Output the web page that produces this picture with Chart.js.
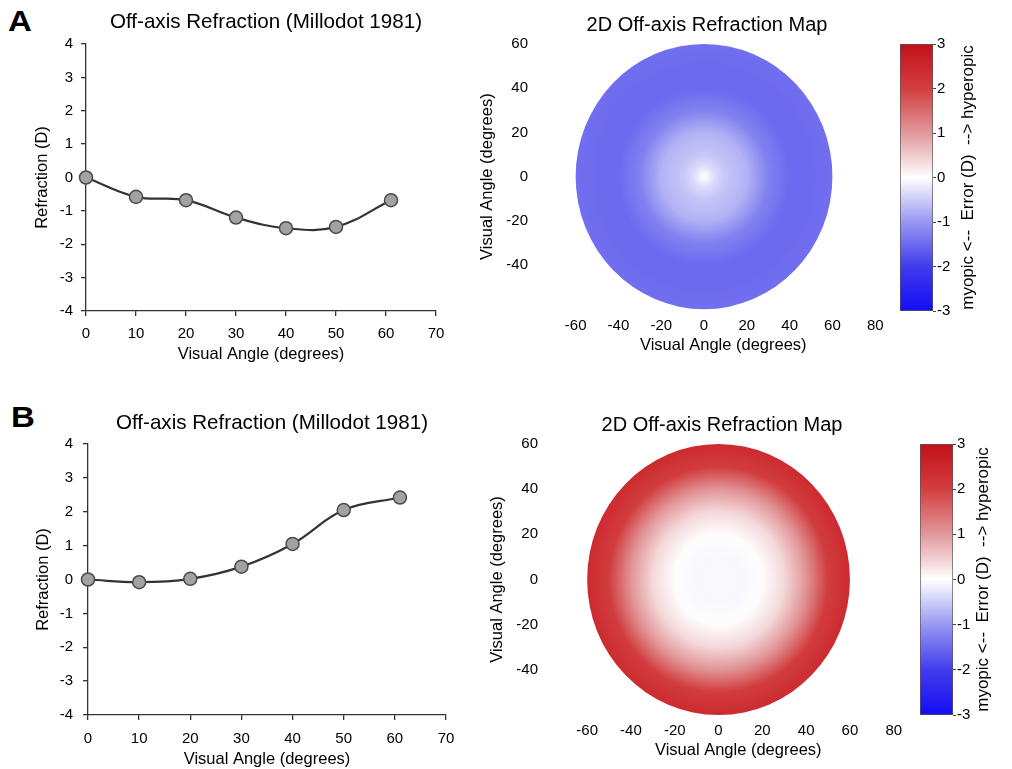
<!DOCTYPE html>
<html><head><meta charset="utf-8">
<script src="https://cdn.jsdelivr.net/npm/chart.js@4/dist/chart.umd.min.js"></script>
<style>
html,body{margin:0;padding:0;background:#fff;width:1012px;height:769px;overflow:hidden;position:relative;font-family:"Liberation Sans",Arial,sans-serif}
canvas{position:absolute}
.lbl{position:absolute;font-weight:bold;font-size:30px;color:#000;line-height:1;transform:scaleX(1.1);transform-origin:left top}
</style></head><body>
<div class="lbl" style="left:8px;top:6px">A</div>
<div class="lbl" style="left:11px;top:402px">B</div>
<canvas id="lineA" style="left:0;top:0" width="532" height="370"></canvas>
<canvas id="mapA" style="left:470px;top:0" width="474" height="370"></canvas>
<canvas id="cbarA" style="left:890px;top:0" width="122" height="370"></canvas>
<canvas id="lineB" style="left:0;top:400px" width="544" height="369"></canvas>
<canvas id="mapB" style="left:470px;top:400px" width="504" height="369"></canvas>
<canvas id="cbarB" style="left:910px;top:400px" width="102" height="369"></canvas>
<script>
// ---- data ----
const anglesA = [0, 10, 20, 30, 40, 50, 61];
const refractionA = [0, -0.58, -0.68, -1.2, -1.52, -1.48, -0.68];
const anglesB = [0, 10, 20, 30, 40, 50, 61];
const refractionB = [0, -0.08, 0.02, 0.38, 1.05, 2.05, 2.42];
const mapRadiiA = [0, 5, 10, 20, 30, 40, 50, 60];
const mapValuesA = [0, -0.35, -0.55, -0.75, -1.25, -1.5, -1.5, -1.45];
const mapRadiiB = [0, 10, 20, 30, 40, 50, 60];
const mapValuesB = [-0.05, -0.08, 0.02, 0.38, 1.05, 2.05, 2.42];
const lineXTicks = [0, 10, 20, 30, 40, 50, 60, 70];
const lineYTicks = [-4, -3, -2, -1, 0, 1, 2, 3, 4];
const mapXTicks = [-60, -40, -20, 0, 20, 40, 60, 80];
const mapYTicks = [-40, -20, 0, 20, 40, 60];
const cbarTicks = [-3, -2, -1, 0, 1, 2, 3];
const cmapValues = [-3, -2, -1, 0, 1, 2, 3];
const cmapColors = [[20,12,245],[65,60,235],[152,152,242],[255,255,255],[226,152,155],[210,62,64],[195,16,26]];
const lineTitle = 'Off-axis Refraction (Millodot 1981)';
const mapTitle = '2D Off-axis Refraction Map';
const angleLabel = 'Visual Angle (degrees)';
const refrLabel = 'Refraction (D)';
const cbarLabel = 'myopic <--  Error (D)  --> hyperopic';
const MAP_RADIUS = 60;

const FAMILY = "'Liberation Sans', Arial, sans-serif";
Chart.defaults.font.family = FAMILY;
Chart.defaults.color = '#000';

function cmap(v) {
  v = Math.max(cmapValues[0], Math.min(cmapValues[cmapValues.length-1], v));
  for (let i = 0; i < cmapValues.length - 1; i++) {
    if (v <= cmapValues[i+1]) {
      const t = (v - cmapValues[i]) / (cmapValues[i+1] - cmapValues[i]);
      const a = cmapColors[i], b = cmapColors[i+1];
      return 'rgb(' + a.map((c, k) => Math.round(c + (b[k]-c)*t)).join(',') + ')';
    }
  }
  return 'rgb(' + cmapColors[cmapColors.length-1].join(',') + ')';
}

// title drawn at a fixed centre (canvas coords)
function titlePlugin(text, size, cx, cy) {
  return {
    id: 'panelTitle',
    afterDraw(chart) {
      const ctx = chart.ctx;
      ctx.save();
      ctx.font = size + 'px ' + FAMILY;
      ctx.fillStyle = '#000';
      ctx.textAlign = 'center'; ctx.textBaseline = 'middle';
      ctx.fillText(text, cx, cy);
      ctx.restore();
    }
  };
}

function lineChart(id, xs, ys, g) {
  return new Chart(document.getElementById(id), {
    type: 'line',
    data: { datasets: [{
      data: xs.map((x, i) => ({x: x, y: ys[i]})),
      borderColor: '#333', borderWidth: 2.2, tension: 0.4, fill: false, clip: false,
      pointRadius: 6.5, pointHoverRadius: 6.5, pointBackgroundColor: '#a2a2a2',
      pointBorderColor: '#4a4a4a', pointBorderWidth: 1.5
    }]},
    plugins: [titlePlugin(lineTitle, 20.6, g.tX, g.tY)],
    options: {
      responsive: false, animation: false, events: [],
      layout: {padding: {left: 0, right: g.padR, top: 44, bottom: 0}},
      plugins: {legend: {display: false}, tooltip: {enabled: false}},
      scales: {
        x: {type: 'linear', min: 0, max: 70,
            afterBuildTicks: s => { s.ticks = lineXTicks.map(v => ({value: v})); },
            afterFit: s => { s.height = g.xH; },
            ticks: {font: {size: 15}, color: '#000', padding: g.xTP, maxRotation: 0},
            grid: {drawOnChartArea: false, drawTicks: true, tickLength: 5, color: '#333', lineWidth: 1.3},
            border: {display: true, color: '#333', width: 1.3},
            title: {display: true, text: angleLabel, color: '#000', font: {size: 16.5}, padding: {top: 0, bottom: g.xTB}}},
        y: {type: 'linear', min: -4, max: 4,
            afterBuildTicks: s => { s.ticks = lineYTicks.map(v => ({value: v})); },
            afterFit: s => { s.width = g.yW; },
            ticks: {font: {size: 15}, color: '#000', padding: g.yTP},
            grid: {drawOnChartArea: false, drawTicks: true, tickLength: 5, color: '#333', lineWidth: 1.3},
            border: {display: true, color: '#333', width: 1.3},
            title: {display: true, text: refrLabel, color: '#000', font: {size: 16.5}, padding: {top: g.yTT, bottom: 0}}}
      }
    }
  });
}

function radialMapPlugin(radii, values) {
  return {
    id: 'radialMap',
    beforeDatasetsDraw(chart) {
      const x = chart.scales.x, y = chart.scales.y;
      const cx = x.getPixelForValue(0), cy = y.getPixelForValue(0);
      const rx = x.getPixelForValue(MAP_RADIUS) - cx, ry = cy - y.getPixelForValue(MAP_RADIUS);
      const ctx = chart.ctx;
      ctx.save();
      ctx.translate(cx, cy);
      ctx.scale(1, ry / rx);
      const grad = ctx.createRadialGradient(0, 0, 0, 0, 0, rx);
      radii.forEach((r, i) => grad.addColorStop(Math.min(1, r / MAP_RADIUS), cmap(values[i])));
      ctx.fillStyle = grad;
      ctx.beginPath(); ctx.arc(0, 0, rx, 0, Math.PI * 2); ctx.fill();
      ctx.restore();
    }
  };
}

function mapChart(id, radii, values, g) {
  return new Chart(document.getElementById(id), {
    type: 'scatter',
    data: {datasets: [{data: [], pointRadius: 0}]},
    plugins: [radialMapPlugin(radii, values), titlePlugin(mapTitle, 20, g.tX, g.tY)],
    options: {
      responsive: false, animation: false, events: [],
      layout: {padding: {left: 0, right: g.padR, top: g.padT, bottom: 0}},
      plugins: {legend: {display: false}, tooltip: {enabled: false}},
      scales: {
        x: {type: 'linear', min: -66, max: 84,
            afterBuildTicks: s => { s.ticks = mapXTicks.map(v => ({value: v})); },
            afterFit: s => { s.height = g.xH; },
            ticks: {font: {size: 15}, color: '#000', padding: g.xTP, maxRotation: 0},
            grid: {display: false, drawTicks: false}, border: {display: false},
            title: {display: true, text: angleLabel, color: '#000', font: {size: 16.5}, padding: {top: 0, bottom: g.xTB}}},
        y: {type: 'linear', min: -62, max: 62,
            afterBuildTicks: s => { s.ticks = mapYTicks.map(v => ({value: v})); },
            afterFit: s => { s.width = g.yW; },
            ticks: {font: {size: 15}, color: '#000', padding: 1},
            grid: {display: false, drawTicks: true, tickLength: g.yTL}, border: {display: false},
            title: {display: true, text: angleLabel, color: '#000', font: {size: 16.5}, padding: {top: g.yTT, bottom: 0}}}
      }
    }
  });
}

function cbarTitlePlugin(xPos) {
  return {
    id: 'cbarTitle',
    afterDraw(chart) {
      const ctx = chart.ctx, a = chart.chartArea;
      ctx.save();
      ctx.translate(xPos, (a.top + a.bottom) / 2);
      ctx.rotate(-Math.PI / 2);
      ctx.font = '17px ' + FAMILY;
      ctx.fillStyle = '#000';
      ctx.textAlign = 'center'; ctx.textBaseline = 'middle';
      ctx.fillText(cbarLabel, 0, 0);
      ctx.restore();
    }
  };
}

function cbarChart(id, g) {
  return new Chart(document.getElementById(id), {
    type: 'bar',
    data: {labels: [''], datasets: [{
      data: [[cbarTicks[0], cbarTicks[cbarTicks.length-1]]],
      backgroundColor: c => {
        const ch = c.chart, ys = ch.scales.y;
        if (!ch.chartArea || !ys) return '#fff';
        const lo = cmapValues[0], hi = cmapValues[cmapValues.length-1];
        const gr = ch.ctx.createLinearGradient(0, ys.getPixelForValue(lo), 0, ys.getPixelForValue(hi));
        cmapValues.forEach((v, i) => gr.addColorStop((v - lo) / (hi - lo), cmap(v)));
        return gr;
      },
      borderColor: '#555', borderWidth: 1, borderSkipped: false,
      barPercentage: 1, categoryPercentage: 1
    }]},
    plugins: [cbarTitlePlugin(g.titleX)],
    options: {
      responsive: false, animation: false, events: [],
      layout: {padding: {left: 10, right: 0, top: 44, bottom: g.padB}},
      plugins: {legend: {display: false}, tooltip: {enabled: false}},
      scales: {
        x: {display: false},
        y: {position: 'right', min: -3, max: 3,
            afterBuildTicks: s => { s.ticks = cbarTicks.map(v => ({value: v})); },
            afterFit: s => { s.width = g.yW; },
            ticks: {font: {size: 15}, color: '#000', padding: 1},
            grid: {drawOnChartArea: false, drawTicks: true, tickLength: 3, color: '#444'},
            border: {display: false}}
      }
    }
  });
}

lineChart('lineA', anglesA, refractionA, {tX: 266, tY: 22, padR: 96, xH: 59, xTP: 8.5, xTB: 6.1, yW: 86, yTP: 8, yTT: 32.1});
lineChart('lineB', anglesB, refractionB, {tX: 272, tY: 23, padR: 98, xH: 54, xTP: 9.5, xTB: 0, yW: 88, yTP: 10, yTT: 33.1});
mapChart('mapA', mapRadiiA, mapValuesA, {tX: 237, tY: 25, padT: 39.6, padR: 60.2, xH: 56.4, xTP: 3.5, xTB: 15.1, yW: 92.8, yTL: 33.8, yTT: 7.1});
mapChart('mapB', mapRadiiB, mapValuesB, {tX: 252, tY: 25, padT: 39.4, padR: 71.5, xH: 49.4, xTP: 2.4, xTB: 9.1, yW: 104, yTL: 35, yTT: 17.1});
cbarChart('cbarA', {padB: 59, yW: 79, titleX: 78});
cbarChart('cbarB', {padB: 54, yW: 59, titleX: 73});
</script>
</body></html>
